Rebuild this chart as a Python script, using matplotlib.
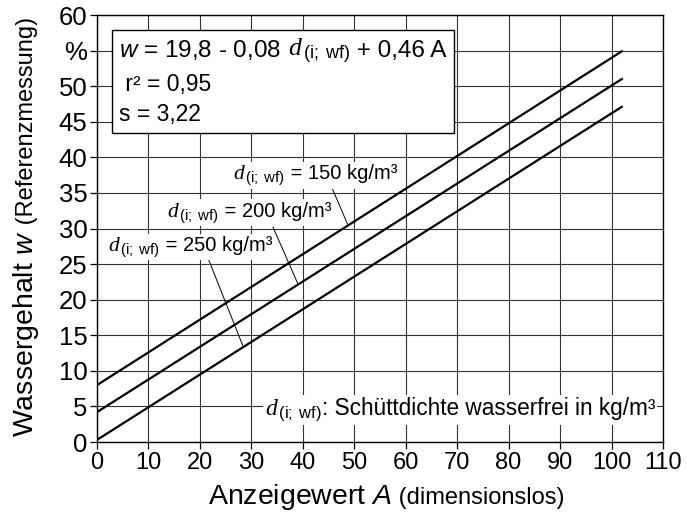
import matplotlib
matplotlib.use("Agg")
import matplotlib.pyplot as plt
from matplotlib.offsetbox import TextArea, HPacker, VPacker, AnnotationBbox


plt.rcParams["font.family"] = ["Liberation Sans", "DejaVu Sans"]
plt.rcParams["mathtext.fontset"] = "custom"
plt.rcParams["mathtext.rm"] = "Liberation Sans"
plt.rcParams["mathtext.it"] = "Liberation Serif:italic"
plt.rcParams["mathtext.sf"] = "Liberation Sans:italic"

# Werte
anzeige = [0, 102]
w_150 = [8.0, 54.9]
w_200 = [4.2, 51.0]
w_250 = [0.3, 47.1]
dichten = ["150", "200", "250"]

# Hinweislinien (Start am Label, Ende an der Geraden)
leader_150 = ([45.8, 48.7], [35.5, 30.6])
leader_200 = ([34.2, 39.0], [30.2, 22.3])
leader_250 = ([21.6, 28.3], [25.8, 13.6])
label_pos = [(26.4, 37.5), (13.6, 32.2), (2.1, 27.4)]

x_ticks = list(range(0, 111, 10))
y_ticks = list(range(0, 61, 5))
y_ticklabels = [str(v) if v != 55 else "%" for v in y_ticks]

D_SYM = r"$\mathit{d}_{\mathrm{\,(i;\ wf)}}$"


def rich(parts, size):
    """Mehrere Textstücke auf einer Grundlinie."""
    areas = [TextArea(s, textprops=dict(fontsize=fs or size)) for s, fs in parts]
    return HPacker(children=areas, align="baseline", pad=0, sep=0)


fig = plt.figure(figsize=(6.87, 5.18), dpi=100)
ax = fig.add_axes([0.1412, 0.1467, 0.8238, 0.8243])

ax.plot(anzeige, w_150, color="black", lw=1.6, zorder=3)
ax.plot(anzeige, w_200, color="black", lw=1.6, zorder=3)
ax.plot(anzeige, w_250, color="black", lw=1.6, zorder=3)

for lx, ly in (leader_150, leader_200, leader_250):
    ax.plot(lx, ly, color="black", lw=0.7, zorder=3)

for d, pos in zip(dichten, label_pos):
    box = rich([(D_SYM, 15.5), (f" = {d} kg/m³", None)], 14.5)
    ab = AnnotationBbox(box, pos, xycoords="data", box_alignment=(0, 0.5),
                        frameon=True, pad=0.1,
                        bboxprops=dict(facecolor="white", edgecolor="none"))
    ab.set_zorder(4)
    ax.add_artist(ab)

# Regressionsbox
line1 = rich([(r"$\mathsf{w}$ = 19,8 - 0,08", None), (" " + D_SYM, 18.5),
              (" + 0,46 A", None)], 17.5)
line2 = rich([(" r² = 0,95", None)], 16.5)
line3 = rich([("s = 3,22", None)], 16.5)
vbox = VPacker(children=[line1, line2, line3], align="left", pad=0, sep=5)
ab = AnnotationBbox(vbox, (4.3, 56.9), xycoords="data", box_alignment=(0, 1),
                    frameon=True, pad=0.5,
                    bboxprops=dict(facecolor="white", edgecolor="black", lw=1.0))
ab.set_zorder(5)
ax.add_artist(ab)

# Legende unten rechts
note = rich([(D_SYM, 17), (": Schüttdichte wasserfrei in kg/m³", None)], 16.3)
ab = AnnotationBbox(note, (32.6, 4.5), xycoords="data", box_alignment=(0, 0.5),
                    frameon=True, pad=0.1,
                    bboxprops=dict(facecolor="white", edgecolor="none"))
ab.set_zorder(4)
ax.add_artist(ab)

ax.set_xlim(0, 110)
ax.set_ylim(0, 60)
ax.set_xticks(x_ticks)
ax.set_yticks(y_ticks)
ax.set_yticklabels(y_ticklabels)
ax.tick_params(axis="x", labelsize=17, direction="out", length=5, width=0.9, pad=2)
ax.tick_params(axis="y", labelsize=18.5, direction="out", length=5, width=0.9, pad=2)
ax.grid(True, color="0.2", lw=0.8, zorder=0)
ax.set_axisbelow(True)
for sp in ax.spines.values():
    sp.set_linewidth(1.0)

# Achsenbeschriftung x
xlab = rich([(r"Anzeigewert $\mathsf{A}$", 20.5), (" (dimensionslos)", 17)], 20)
ab = AnnotationBbox(xlab, (0.562, 0.012), xycoords="figure fraction",
                    box_alignment=(0.5, 0), frameon=False, pad=0)
fig.add_artist(ab)

# Achsenbeschriftung y (zwei Größen, gedreht)
t1 = fig.text(0.048, 0.156, r"Wassergehalt $\mathsf{w}$", fontsize=20.5, rotation=90,
              rotation_mode="anchor", ha="left", va="baseline")
fig.canvas.draw()
bb = t1.get_window_extent()
fig.text(0.048, bb.y1 / fig.bbox.height, " (Referenzmessung)", fontsize=17,
         rotation=90, rotation_mode="anchor", ha="left", va="baseline")

fig.savefig("out.png", dpi=100)
